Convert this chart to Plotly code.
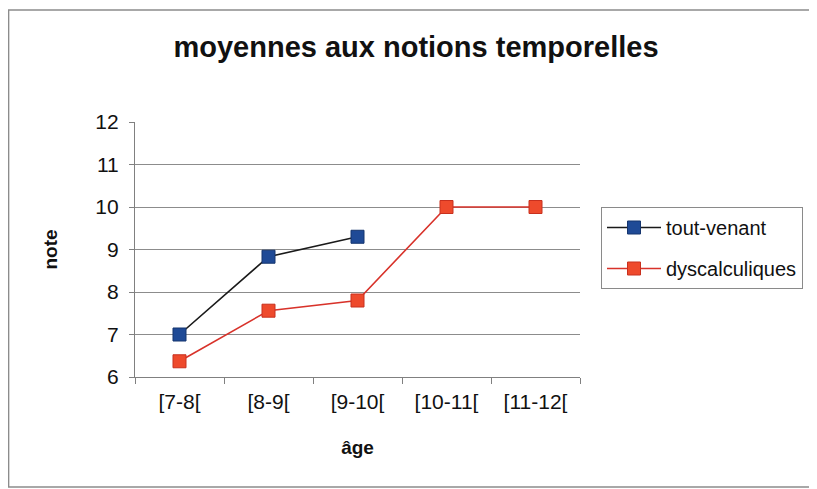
import plotly.graph_objects as go

# données
ages = ['[7-8[', '[8-9[', '[9-10[', '[10-11[', '[11-12[']
tout_venant = [7.0, 8.83, 9.3, None, None]
dyscalculiques = [6.37, 7.56, 7.8, 10.0, 10.0]
y_ticks = [6, 7, 8, 9, 10, 11, 12]

# la page ajoute une marge de 8 px autour de la figure
OFF = 8
W, H = 817 - OFF, 489 - OFF
M_L, M_R, M_T, M_B = 127, 237, 114, 112
PW = W - M_L - M_R
PH = H - M_T - M_B


def px_x(x):
    # x écran -> coordonnée paper
    return (x - OFF - M_L) / PW


def px_y(y):
    return (H - M_B - (y - OFF)) / PH


font_main = 'Liberation Sans, Arial, sans-serif'

fig = go.Figure()

fig.add_trace(go.Scatter(
    x=ages, y=tout_venant, name='tout-venant', mode='lines+markers',
    legendgroup='a',
    line=dict(color='#1a1a1a', width=1.6),
    marker=dict(symbol='square', size=13, color='#1F4A96',
                line=dict(color='#15356e', width=1)),
    connectgaps=False,
))
fig.add_trace(go.Scatter(
    x=ages, y=dyscalculiques, name='dyscalculiques', mode='lines+markers',
    legendgroup='b',
    line=dict(color='#D8322A', width=1.6),
    marker=dict(symbol='square', size=13, color='#EE4A2C',
                line=dict(color='#C8301E', width=1)),
))

fig.update_layout(
    width=W, height=H,
    margin=dict(l=M_L, r=M_R, t=M_T, b=M_B, autoexpand=False),
    paper_bgcolor='white', plot_bgcolor='white',
    font=dict(family=font_main, color='#111', size=21),
    title=dict(text='<b>moyennes aux notions temporelles</b>',
               font=dict(size=29, family=font_main),
               x=(416 - OFF) / W, xref='container', xanchor='center',
               y=1 - (47 - OFF) / H, yref='container', yanchor='middle'),
    showlegend=True,
    legend=dict(x=px_x(601), y=px_y(207), xanchor='left', yanchor='top',
                bordercolor='#8a8a8a', borderwidth=1, bgcolor='white',
                font=dict(size=20, family=font_main),
                traceorder='grouped', tracegroupgap=12,
                itemwidth=54),
    shapes=[dict(type='rect', xref='paper', yref='paper',
                 x0=px_x(8.6), x1=px_x(815), y0=px_y(487), y1=px_y(10),
                 line=dict(color='#8c8c8c', width=1.5), layer='below')],
)

fig.update_xaxes(
    type='category', categoryorder='array', categoryarray=ages,
    range=[-0.5, len(ages) - 0.5],
    tickson='boundaries', ticks='outside', ticklen=6, tickcolor='#808080',
    showline=True, linecolor='#808080', linewidth=1.2,
    showgrid=False, ticklabelstandoff=6,
    tickfont=dict(size=21),
    title=dict(text='<b>âge</b>', font=dict(size=19), standoff=28),
)
fig.update_yaxes(
    range=[6, 12], tickvals=y_ticks, ticks='outside', ticklen=5,
    tickcolor='#808080', showline=True, linecolor='#808080', linewidth=1.2,
    showgrid=True, gridcolor='#8c8c8c', gridwidth=1,
    zeroline=False, tickfont=dict(size=21), ticklabelstandoff=6,
    title=dict(text='<b>note</b>', font=dict(size=19), standoff=32),
)

fig.write_html('out.html')
